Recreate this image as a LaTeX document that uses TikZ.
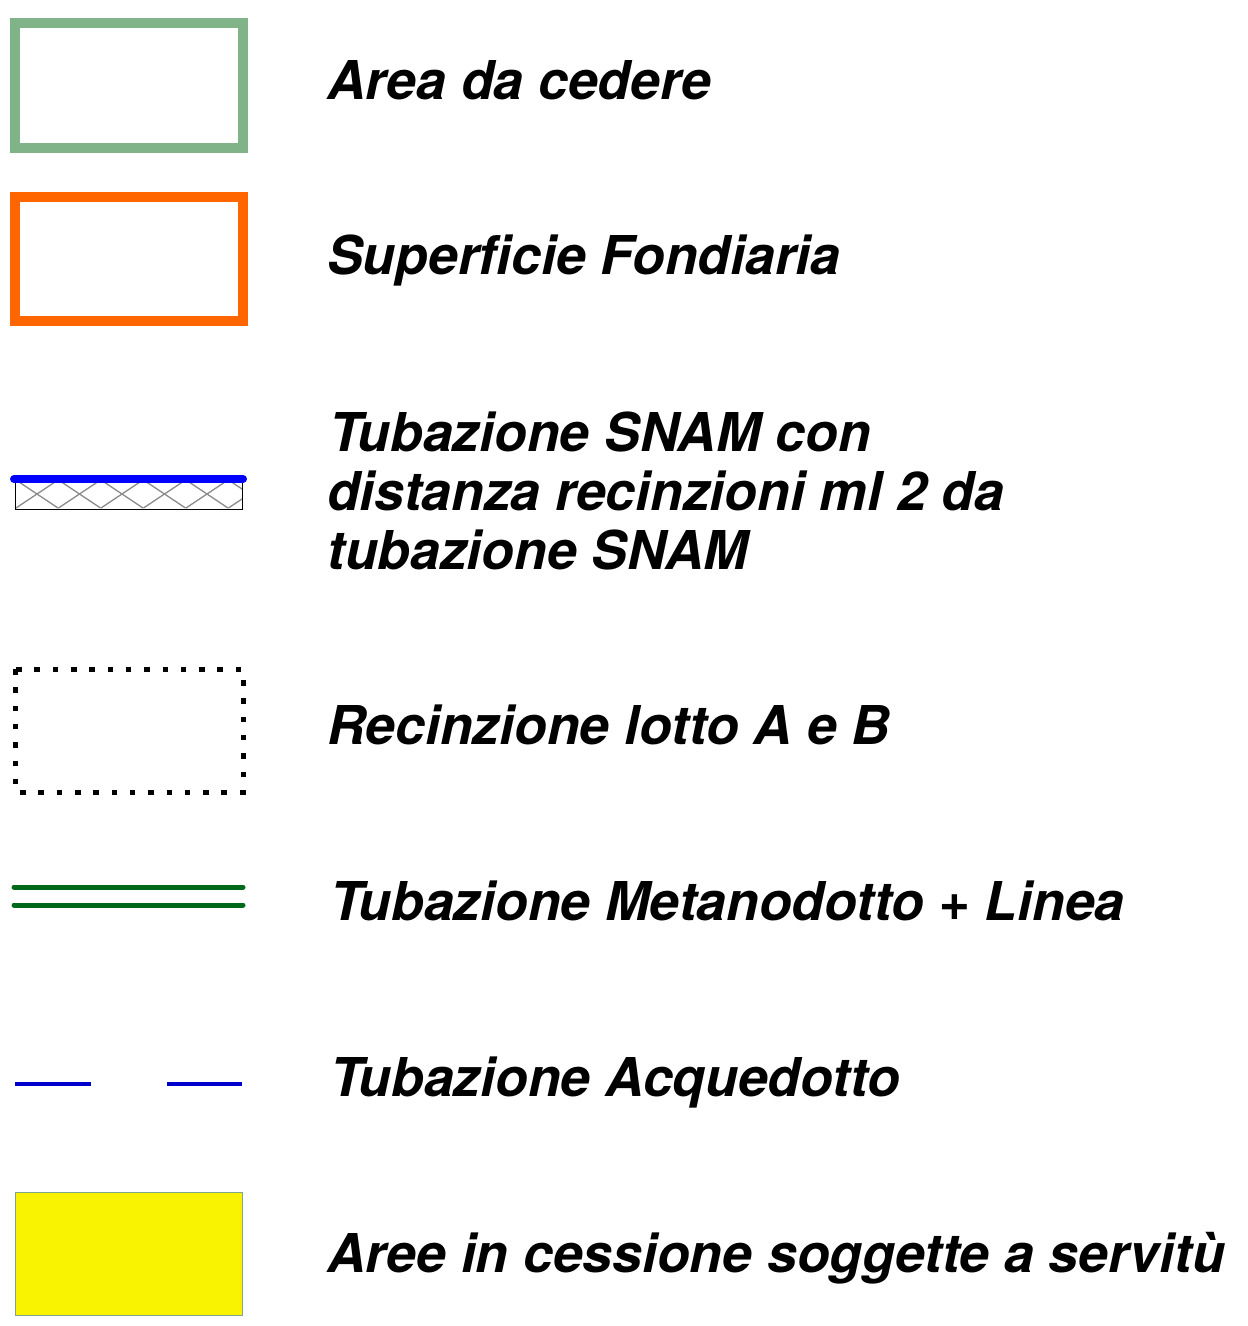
\documentclass[tikz,border=0pt]{standalone}
\usepackage{fontspec}
\setmainfont{TeX Gyre Heros}
\begin{document}
\begin{tikzpicture}[x=1pt,y=-1pt,
  lbl/.style={anchor=base west,inner sep=0pt,font=\fontsize{53.5}{60}\selectfont\bfseries\itshape},
]
\useasboundingbox (0,0) rectangle (1248,1326);
\definecolor{cedgreen}{HTML}{80B388}
\definecolor{fondor}{HTML}{FF6600}
\definecolor{metgreen}{HTML}{006A1A}
\definecolor{acqblue}{HTML}{0000CC}
\definecolor{servy}{HTML}{F9F200}
% 1 Area da cedere
\draw[cedgreen,line width=10] (15,23) rectangle (243,148);
\node[lbl] (t1) at (327,99) {Area da cedere};
% 2 Superficie fondiaria
\draw[fondor,line width=10] (15,197) rectangle (243,321);
\node[lbl] (t2) at (327,274) {Superficie Fondiaria};
% 3 SNAM
\begin{scope}
\clip (15,479) rectangle (242,509);
\foreach \c in {37,79.5,122,164.5,207,249.5,-5.5}{
  \draw[gray!90,line width=1.3] (\c-21,480) -- (\c+21,508);
  \draw[gray!90,line width=1.3] (\c+21,480) -- (\c-21,508);
}
\end{scope}
\draw[black,line width=0.8] (15,479) -- (15,509) -- (242,509) -- (242,479);
\draw[blue,line width=8,line cap=round] (14,479) -- (243,479);
\node[lbl] (t3a) at (329,451) {Tubazione SNAM con};
\node[lbl] (t3b) at (327,510) {distanza recinzioni ml 2 da};
\node[lbl] (t3c) at (327,569) {tubazione SNAM};
% 4 Recinzione
\draw[black,line width=5,dash pattern=on 5.5 off 12.8] (15,669) rectangle (243,792);
\node[lbl] (t4) at (327,744) {Recinzione lotto A e B};
% 5 Metanodotto
\draw[metgreen,line width=5,line cap=round] (14,887) -- (243,887);
\draw[metgreen,line width=5,line cap=round] (14,905) -- (243,905);
\node[lbl] (t5) at (330,920) {Tubazione Metanodotto + Linea};
% 6 Acquedotto
\draw[acqblue,line width=4.5] (15,1084) -- (91,1084);
\draw[acqblue,line width=4.5] (167,1084) -- (242,1084);
\node[lbl] (t6) at (330,1096) {Tubazione Acquedotto};
% 7 servitu
\draw[fill=servy,draw=cedgreen!70!gray,line width=1] (15.5,1192) rectangle (242.5,1315);
\node[lbl] (t7) at (327,1272) {Aree in cessione soggette a servitù};
\end{tikzpicture}
\end{document}
